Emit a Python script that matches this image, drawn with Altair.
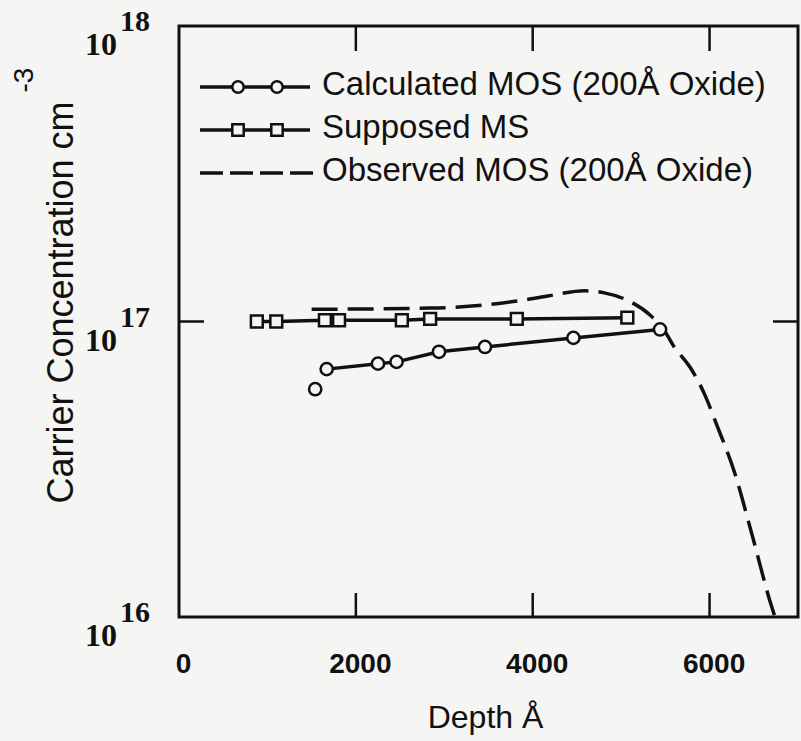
import altair as alt
import pandas as pd

# ---- data ----
ms_depth = [880, 1100, 1650, 1810, 2520, 2840, 3820, 5070]
ms_conc = [1.00e17, 1.00e17, 1.01e17, 1.01e17, 1.01e17, 1.02e17, 1.02e17, 1.03e17]

calc_depth = [1670, 2250, 2460, 2940, 3460, 4460, 5440]
calc_conc = [6.9e16, 7.2e16, 7.3e16, 7.9e16, 8.2e16, 8.8e16, 9.4e16]
calc_extra_depth = [1540]
calc_extra_conc = [5.9e16]

obs_depth = [1500, 2850, 3800, 4170, 4590, 4810, 5070, 5330, 5490, 5600,
             5780, 5940, 6090, 6280, 6480, 6680, 6740]
obs_conc = [1.10e17, 1.11e17, 1.17e17, 1.22e17, 1.27e17, 1.25e17, 1.18e17,
            1.05e17, 9.3e16, 8.2e16, 7.0e16, 5.7e16, 4.4e16, 3.1e16, 1.9e16,
            1.14e16, 1.0e16]

x_ticks = [0, 2000, 4000, 6000]
y_ticks = [1e16, 1e17, 1e18]
y_exponents = ["16", "17", "18"]
series_labels = ["Calculated MOS (200Å Oxide)", "Supposed MS", "Observed MOS (200Å Oxide)"]

# ---- styling ----
W, H = 619, 591
INK = "#111111"
BG = "#f5f5f3"
SANS = "Liberation Sans"
SERIF = "Liberation Serif"

ms_df = pd.DataFrame({"depth": ms_depth, "conc": ms_conc})
calc_df = pd.DataFrame({"depth": calc_depth, "conc": calc_conc})
calc_extra_df = pd.DataFrame({"depth": calc_extra_depth, "conc": calc_extra_conc})
obs_df = pd.DataFrame({"depth": obs_depth, "conc": obs_conc})
xt_df = pd.DataFrame({"depth": x_ticks})
yt_df = pd.DataFrame({"conc": y_ticks, "exp": y_exponents})
leg_df = pd.DataFrame({"label": series_labels})

xscale = alt.Scale(domain=[0, 7000], nice=False, zero=False)
yscale = alt.Scale(type="log", domain=[1e16, 1e18], nice=False)

X = alt.X("depth:Q", scale=xscale, axis=alt.Axis(
    values=x_ticks, format="d", grid=False, domain=False, ticks=False, tickSize=0,
    labelFont=SANS, labelFontSize=28, labelFontWeight="bold", labelColor=INK,
    labelBaseline="alphabetic", labelPadding=55, labelOffset=4, labelFlush=False,
    title="Depth Å", titleFont=SANS, titleFontSize=32, titleFontWeight="normal",
    titleColor=INK, titleBaseline="alphabetic", titleY=110, titleX=306))
Y = alt.Y("conc:Q", scale=yscale, axis=alt.Axis(
    values=y_ticks, grid=False, domain=False, ticks=False, labels=False,
    title="Carrier Concentration cm", titleFont=SANS, titleFontSize=36,
    titleFontWeight="normal", titleColor=INK, titleAngle=270,
    titleAlign="center", titleBaseline="alphabetic", titleX=-107, titleY=276))

line_calc = alt.Chart(calc_df).mark_line(color=INK, strokeWidth=3.5).encode(x=X, y=Y)
pts_calc = alt.Chart(calc_df).mark_point(shape="circle", fill=BG, stroke=INK, strokeWidth=2.5,
                                         size=150, opacity=1).encode(x="depth:Q", y="conc:Q")
pts_calc_extra = alt.Chart(calc_extra_df).mark_point(shape="circle", fill=BG, stroke=INK,
                                                     strokeWidth=2.5, size=150, opacity=1).encode(
    x="depth:Q", y="conc:Q")
line_ms = alt.Chart(ms_df).mark_line(color=INK, strokeWidth=3.5).encode(x="depth:Q", y="conc:Q")
pts_ms = alt.Chart(ms_df).mark_point(shape="square", fill=BG, stroke=INK, strokeWidth=2.5,
                                     size=140, opacity=1).encode(x="depth:Q", y="conc:Q")
line_obs = alt.Chart(obs_df).mark_line(color=INK, strokeWidth=3.5, strokeDash=[26, 10],
                                       interpolate="monotone", clip=True).encode(
    x="depth:Q", y="conc:Q")

# inward ticks
top_ticks = alt.Chart(xt_df).transform_filter("datum.depth > 0").mark_rule(
    color=INK, strokeWidth=2.5).encode(x="depth:Q", y=alt.value(0), y2=alt.value(25))
bot_ticks = alt.Chart(xt_df).transform_filter("datum.depth > 0").mark_rule(
    color=INK, strokeWidth=2.5).encode(x="depth:Q", y=alt.value(H - 24), y2=alt.value(H))
mid_y = yt_df.iloc[1:2]
left_ticks = alt.Chart(mid_y).mark_rule(color=INK, strokeWidth=2.5).encode(
    y="conc:Q", x=alt.value(0), x2=alt.value(25))
right_ticks = alt.Chart(mid_y).mark_rule(color=INK, strokeWidth=2.5).encode(
    y="conc:Q", x=alt.value(W - 25), x2=alt.value(W))

# y tick labels 10^n
ylab_base = alt.Chart(yt_df).mark_text(align="right", baseline="alphabetic", dy=29,
                                       font=SERIF, fontSize=32, fontWeight="bold", color=INK).encode(
    y="conc:Q", x=alt.value(-62), text=alt.value("10"))
ylab_exp = alt.Chart(yt_df).mark_text(align="left", baseline="alphabetic", dy=5,
                                      font=SERIF, fontSize=30, fontWeight="bold", color=INK).encode(
    y="conc:Q", x=alt.value(-59), text="exp:N")

# y-title exponent
ytitle_exp = alt.Chart(leg_df.iloc[0:1]).mark_text(
    angle=270, align="center", baseline="alphabetic", font=SANS, fontSize=28, color=INK).encode(
    x=alt.value(-146), y=alt.value(54), text=alt.value("-3"))

# legend
legend_layers = []
row_y = [61, 104, 147]
for i in range(3):
    one = leg_df.iloc[i:i + 1]
    if i < 2:
        legend_layers.append(alt.Chart(one).mark_rule(color=INK, strokeWidth=3.5).encode(
            x=alt.value(21), x2=alt.value(131), y=alt.value(row_y[i])))
        shape = "circle" if i == 0 else "square"
        for mx in (59, 98):
            legend_layers.append(alt.Chart(one).mark_point(
                shape=shape, fill=BG, stroke=INK, strokeWidth=2.5, size=130, opacity=1).encode(
                x=alt.value(mx), y=alt.value(row_y[i])))
    else:
        legend_layers.append(alt.Chart(one).mark_rule(
            color=INK, strokeWidth=3.5, strokeDash=[23, 7]).encode(
            x=alt.value(21), x2=alt.value(141), y=alt.value(row_y[i])))
    legend_layers.append(alt.Chart(one).mark_text(
        align="left", baseline="alphabetic", font=SANS, fontSize=33, color=INK).encode(
        x=alt.value(143), y=alt.value(row_y[i] + 8), text="label:N"))

chart = alt.layer(
    line_calc, line_ms, line_obs, pts_calc, pts_calc_extra, pts_ms,
    top_ticks, bot_ticks, left_ticks, right_ticks,
    ylab_base, ylab_exp, ytitle_exp, *legend_layers
).properties(
    width=W, height=H,
    padding={"left": 179, "top": 26, "right": 3, "bottom": 124},
    autosize=alt.AutoSizeParams(type="none"),
    background=BG,
).configure_view(stroke=INK, strokeWidth=3)

chart.save("out.html", embed_options={"renderer": "svg", "actions": False})
